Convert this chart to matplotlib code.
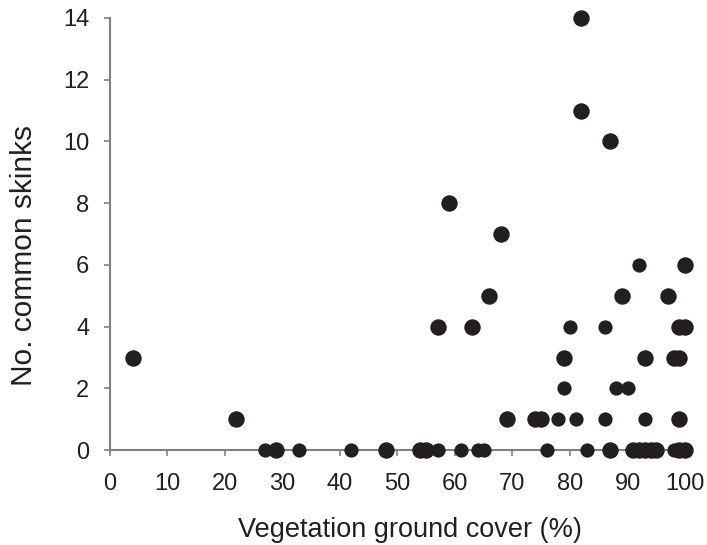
import matplotlib
matplotlib.use('Agg')
import matplotlib.pyplot as plt

plt.rcParams['font.family'] = ['Liberation Sans', 'DejaVu Sans']

# vegetation ground cover (%) and number of common skinks
# larger dots
big_x = [4, 22, 29, 48, 54, 55, 59, 68, 66, 57, 63, 69, 74, 75, 79, 82, 82, 87,
         87, 89, 91, 92, 93, 93, 94, 95, 97, 98, 99, 99, 100, 100, 99, 99, 100]
big_y = [3, 1, 0, 0, 0, 0, 8, 7, 5, 4, 4, 1, 1, 1, 3, 14, 11, 10,
         0, 5, 0, 0, 0, 3, 0, 0, 5, 3, 3, 4, 4, 6, 1, 0, 0]
# smaller dots
small_x = [27, 33, 42, 57, 61, 64, 65, 76, 78, 79, 80, 81, 83, 86, 86, 88, 90, 92, 93, 98]
small_y = [0, 0, 0, 0, 0, 0, 0, 0, 1, 2, 4, 1, 0, 4, 1, 2, 2, 6, 1, 0]

grey = '#808080'
ink = '#231f20'

fig = plt.figure(figsize=(7.07, 5.45), dpi=100)
ax = fig.add_axes([0.155, 0.174, 0.814, 0.793])

ax.scatter(big_x, big_y, s=140, c=ink, linewidths=0, clip_on=False, zorder=3)
ax.scatter(small_x, small_y, s=105, c=ink, linewidths=0, clip_on=False, zorder=3)

ax.set_xlim(0, 100)
ax.set_ylim(0, 14)
ax.set_xticks(range(0, 101, 10))
ax.set_yticks(range(0, 15, 2))

for s in ['top', 'right']:
    ax.spines[s].set_visible(False)
for s in ['left', 'bottom']:
    ax.spines[s].set_color(grey)
    ax.spines[s].set_linewidth(1.5)

ax.tick_params(colors=grey, width=1.2, length=4.5, labelsize=17, labelcolor=ink)
ax.tick_params(axis='x', pad=12)
ax.tick_params(axis='y', pad=10)

ax.set_xlabel('Vegetation ground cover (%)', fontsize=19.5, color=ink)
ax.set_ylabel('No. common skinks', fontsize=21.5, color=ink)
ax.xaxis.set_label_coords(0.522, -0.155)
ax.yaxis.set_label_coords(-0.125, 0.45)

fig.savefig('out.png', dpi=100)
